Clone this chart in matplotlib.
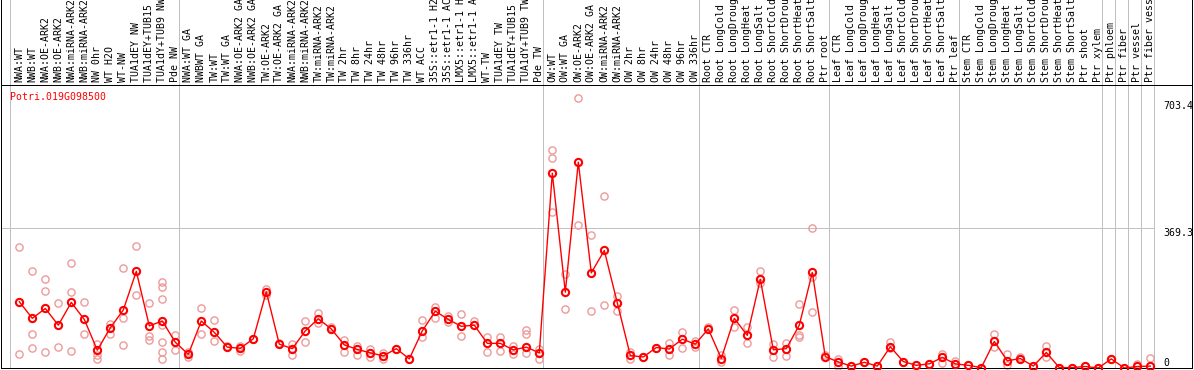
import matplotlib
matplotlib.use("Agg")
import matplotlib.pyplot as plt
import numpy as np

gene = "Potri.019G098500"

group_sizes = [13, 28, 12, 10, 10, 11, 1, 1, 1, 1]

labels = [
    "NWA:WT", "NWB:WT", "NWA:OE-ARK2", "NWB:OE-ARK2", "NWA:miRNA-ARK2", "NWB:miRNA-ARK2",
    "NW 0hr", "WT H2O", "WT-NW", "TUA1dEY NW", "TUA1dEY+TUB15 NW", "TUA1dY+TUB9 NW", "Pde NW",
    "NWA:WT GA", "NWBWT GA", "TW:WT", "TW:WT GA", "NWA:OE-ARK2 GA", "NWB:OE-ARK2 GA",
    "TW:OE-ARK2", "TW:OE-ARK2 GA", "NWA:miRNA-ARK2", "NWB:miRNA-ARK2", "TW:miRNA-ARK2",
    "TW:miRNA-ARK2", "TW 2hr", "TW 8hr", "TW 24hr", "TW 48hr", "TW 96hr", "TW 336hr", "WT ACC",
    "35S::etr1-1 H2O", "35S::etr1-1 ACC", "LMX5::etr1-1 H2O", "LMX5::etr1-1 ACC", "WT-TW",
    "TUA1dEY TW", "TUA1dEY+TUB15 TW", "TUA1dY+TUB9 TW", "Pde TW",
    "OW:WT", "OW:WT GA", "OW:OE-ARK2", "OW:OE-ARK2 GA", "OW:miRNA-ARK2", "OW:miRNA-ARK2",
    "OW 2hr", "OW 8hr", "OW 24hr", "OW 48hr", "OW 96hr", "OW 336hr",
    "Root CTR", "Root LongCold", "Root LongDrought", "Root LongHeat", "Root LongSalt",
    "Root ShortCold", "Root ShortDrought", "Root ShortHeat", "Root ShortSalt", "Ptr root",
    "Leaf CTR", "Leaf LongCold", "Leaf LongDrought", "Leaf LongHeat", "Leaf LongSalt",
    "Leaf ShortCold", "Leaf ShortDrought", "Leaf ShortHeat", "Leaf ShortSalt", "Ptr leaf",
    "Stem CTR", "Stem LongCold", "Stem LongDrought", "Stem LongHeat", "Stem LongSalt",
    "Stem ShortCold", "Stem ShortDrought", "Stem ShortHeat", "Stem ShortSalt", "Ptr shoot",
    "Ptr xylem", "Ptr phloem", "Ptr fiber", "Ptr vessel", "Ptr fiber vessel",
]

means = [
    175, 131, 157, 113, 173, 128, 47, 106, 153, 255, 111, 124, 68,
    36, 124, 94, 55, 52, 77, 201, 63, 51, 98, 130, 103, 61, 49, 40, 32, 51, 24,
    98, 150, 128, 110, 113, 65, 65, 48, 55, 40,
    514, 200, 543, 251, 310, 172, 33, 29, 54, 50, 76, 63,
    103, 25, 131, 86, 234, 48, 51, 113, 252, 30,
    16, 5, 15, 5, 56, 17, 7, 11, 28, 11,
    7, 1, 70, 19, 25, 5, 41, 1, 1, 4, 0,
    24, 0, 4, 5,
]

replicates = [
    [318, 36], [255, 89, 53], [234, 202, 42], [171, 55], [277, 200, 45], [173, 89],
    [63, 33, 25], [115, 89], [264, 131, 60], [322, 193], [171, 84, 74],
    [227, 213, 182, 113, 68, 42, 25], [87, 47],
    [43, 30], [157, 91], [127, 70], [58], [58, 46], [77], [208, 193], [65], [63, 34],
    [124, 69], [146, 120], [109], [74, 43], [58, 33], [49, 30], [40, 23], [51], [24],
    [127, 83], [162, 131], [137, 122], [142, 84], [124], [83, 43], [83, 46], [58, 37],
    [100, 89, 39], [51, 25],
    [574, 555, 411], [248, 155], [711, 376], [350, 150], [455, 166], [190, 150],
    [43, 25], [29], [54], [67, 34], [94, 54], [72, 56],
    [109], [33, 17], [153, 109], [109, 65], [255, 223], [63, 30], [67, 32],
    [169, 87, 83], [368, 241, 147], [33],
    [23, 5], [5], [15], [5], [69, 52], [17], [7], [11], [37, 14], [19],
    [7], [1], [91, 55], [37, 8], [30], [5], [59, 30], [1], [1], [4], [0],
    [24], [0], [11], [26],
]

ytick_vals = [703.4, 369.3, 0]

W, H = 1194, 370
fig = plt.figure(figsize=(W / 100, H / 100), dpi=100)

# pixel layout
px_left, px_right = 1, 1192
px_head, px_bottom = 85, 368
x0, step = 19.3, 13.0
ymax = (px_bottom - px_head) / ((px_bottom - 228) / 369.3)
xlim = ((px_left - x0) / step, (px_right - x0) / step)

ax = fig.add_axes([px_left / W, (H - px_bottom) / H,
                   (px_right - px_left) / W, (px_bottom - px_head) / H])
hax = fig.add_axes([px_left / W, (H - px_head) / H,
                    (px_right - px_left) / W, px_head / H])

mono = "DejaVu Sans Mono"
grey = "#c0c0c0"
lw = 0.72

x = np.arange(len(means))
bounds = np.concatenate([[0], np.cumsum(group_sizes)])
sep = bounds - 0.68

for a in (ax, hax):
    a.set_xlim(*xlim)
    a.set_xticks([])
    a.set_yticks([])
    for s in a.spines.values():
        s.set_linewidth(lw)
        s.set_color("black")
    for b in sep:
        a.axvline(b, color=grey, lw=lw, zorder=1)

hax.set_ylim(0, 1)
hax.spines["top"].set_visible(False)

ax.set_ylim(0, ymax)
ax.hlines(369.3, xlim[0], sep[-1], color=grey, lw=lw, zorder=1)

# replicate points
for i, reps in enumerate(replicates):
    ax.plot([i] * len(reps), reps, "o", ms=5.2, mfc="none", mec="#ee9a9a",
            mew=1.0, zorder=2, clip_on=False)

# mean line
ax.plot(x, means, "-", color="red", lw=1.0, zorder=3)
ax.plot(x, means, "o", ms=5.2, mfc="none", mec="red", mew=1.5, zorder=4, clip_on=False)

# header labels
for i, lab in enumerate(labels):
    hax.text(i, (px_head - 82) / px_head, lab, rotation=90, ha="center", va="bottom",
             family=mono, fontsize=7.1, color="black", clip_on=True)

# title
ax.text((10 - px_left) / (px_right - px_left), (px_bottom - 97) / (px_bottom - px_head),
        gene, transform=ax.transAxes, family=mono, fontsize=7.1, color="red",
        ha="left", va="center")

# y labels on the right
xl = sep[-1] + 0.65
for v in ytick_vals:
    ax.text(xl, v, f"{v:g}" if v else "0", family=mono, fontsize=7.1, color="black",
            ha="left", va="bottom" if v == 0 else "top")

fig.savefig("out.png", dpi=100)
